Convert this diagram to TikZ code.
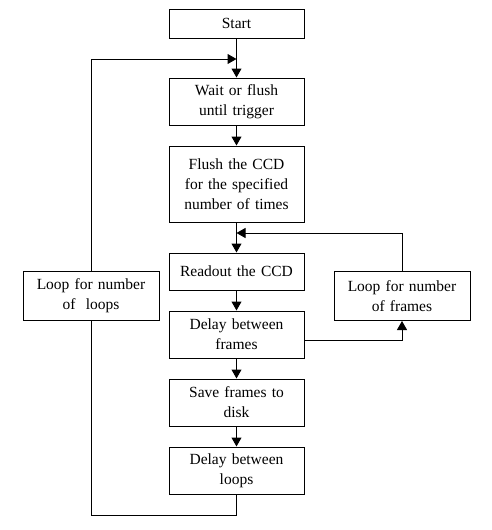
\documentclass[tikz,border=0pt]{standalone}
\usepackage{fontspec}
\setmainfont{Liberation Serif}
\usetikzlibrary{arrows.meta,calc}
\begin{document}
\begin{tikzpicture}[x=1pt,y=-1pt,
  box/.style={draw,line width=1pt,align=center,inner sep=0pt,
    font=\fontsize{15.5}{20}\selectfont},
  cbox/.style={box,minimum width=135pt,text width=135pt},
  lbox/.style={box,minimum width=136pt,text width=136pt,minimum height=49pt},
  conn/.style={line width=1pt},
  arr/.style={conn,-{Triangle[width=10pt,length=9pt]}}]
\useasboundingbox (0,0) rectangle (491,530);
\fill[white] (0,0) rectangle (491,530);
\node[cbox,minimum height=29pt] (start) at (236.5,23.5) {Start};
\node[cbox,minimum height=47pt] (wait) at (236.5,101.5) {Wait or flush\\until trigger};
\node[cbox,minimum height=76pt] (flush) at (236.5,184) {Flush the CCD\\for the specified\\number of times};
\node[cbox,minimum height=37pt] (readout) at (236.5,271.5) {Readout the CCD};
\node[cbox,minimum height=47pt] (delayf) at (236.5,334.5) {Delay between\\frames};
\node[cbox,minimum height=47pt] (save) at (236.5,402.5) {Save frames to\\disk};
\node[cbox,minimum height=47pt] (delayl) at (236.5,470.5) {Delay between\\loops};
\node[lbox] (loopl) at (91,296) {Loop for number\\of\ \ loops};
\node[lbox] (loopf) at (402,296) {Loop for number\\of frames};
\coordinate (j1) at (236.5,59);
\coordinate (j2) at (236.5,233);
\coordinate (b1) at (236.5,515);
\draw[arr] (start) -- (wait);
\draw[arr] (wait) -- (flush);
\draw[arr] (flush) -- (readout);
\draw[arr] (readout) -- (delayf);
\draw[arr] (delayf) -- (save);
\draw[arr] (save) -- (delayl);
\draw[conn] (delayl.south) -- (b1) -| (loopl.south);
\draw[arr] (loopl.north) |- (j1);
\draw[arr] (loopf.north) |- (j2);
\draw[arr] ([yshift=-5.5pt]delayf.east) -| (loopf.south);
\end{tikzpicture}
\end{document}
